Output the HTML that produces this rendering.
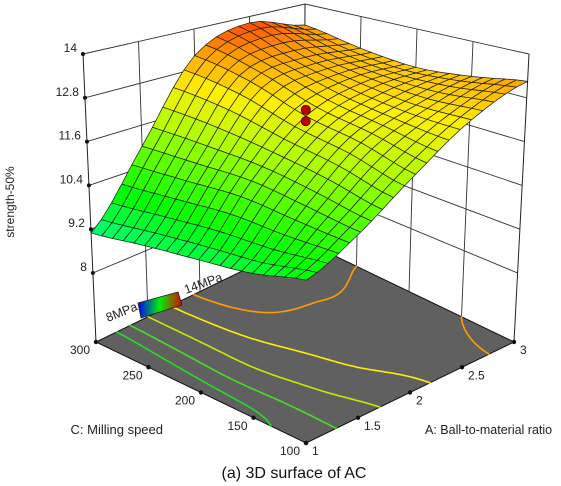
<!DOCTYPE html>
<html><head><meta charset="utf-8"><style>
html,body{margin:0;padding:0;background:#fff;}
svg{display:block;font-family:"Liberation Sans",sans-serif;}
</style></head><body>
<svg id="chart" width="561" height="486" viewBox="0 0 561 486" xmlns="http://www.w3.org/2000/svg">
<defs>
<linearGradient id="cbGrad" x1="0" y1="0" x2="1" y2="0">
<stop offset="0" stop-color="#0000ff"/><stop offset="0.5" stop-color="#00f000"/><stop offset="1" stop-color="#e00000"/>
</linearGradient>
</defs>
<g id="walls"></g>
<g id="floor"></g>
<g id="contours"></g>
<g id="axes"></g>
<g id="surface"></g>
<g id="points"></g>
<g>
<polygon points="138,303 178,292 182,305 141,318" fill="url(#cbGrad)" stroke="#222" stroke-width="0.8"/>
<text x="108" y="322" font-size="12.5" transform="rotate(-22 108 322)" fill="#222">8MPa</text>
<text x="186" y="294" font-size="12.5" transform="rotate(-20 186 294)" fill="#222">14MPa</text>
</g>
<text x="14" y="202" font-size="12" text-anchor="middle" transform="rotate(-90 14 202)" fill="#222">strength-50%</text>
<text x="163" y="434" font-size="13" text-anchor="end" fill="#222">C: Milling speed</text>
<text x="425" y="434" font-size="12.5" fill="#222">A: Ball-to-material ratio</text>
<text x="294" y="478" font-size="16" text-anchor="middle" fill="#111">(a) 3D surface of AC</text>
</svg>
<script>
// ---- data ----
const aValues = [1, 1.5, 2, 2.5, 3];            // A: Ball-to-material ratio
const cValues = [100, 150, 200, 250, 300];      // C: Milling speed
const zRow100 = [9.9, 10.6, 11.6, 12.6, 13.25];
const zRow150 = [9.6, 10.8, 12.0, 12.6, 13.0];
const zRow200 = [9.45, 11.0, 12.3, 12.8, 12.85];
const zRow250 = [9.3, 11.0, 12.85, 13.15, 13.0];
const zRow300 = [9.1, 11.0, 13.2, 13.8, 13.3];
const zTicks = [8, 9.2, 10.4, 11.6, 12.8, 14];
const aTicks = [1, 1.5, 2, 2.5, 3];
const cTicks = [100, 150, 200, 250, 300];
const contourLevels = [9.7, 10.25, 11, 12, 13];
const designPointA = [2, 2];
const designPointC = [200, 200];
const designPointZ = [12.47, 12.16];

const zGrid = [zRow100, zRow150, zRow200, zRow250, zRow300];
const NS = "http://www.w3.org/2000/svg";
const Z0 = 6.11, Z1 = 14;

function P(A, C, z) {
  const u = (A - 1) / 2, v = (C - 100) / 200;
  const fx = 306 + 208 * u - 210 * v, fy = 443 - 101 * u - 101 * v;
  const H = 339 - 51 * u - 51 * v, lean = 14 * u - 14 * v + 1;
  const f = (z - Z0) / (Z1 - Z0);
  return [fx + lean * f, fy - H * f];
}
function cr(p0, p1, p2, p3, t) {
  return 0.5 * ((2 * p1) + (-p0 + p2) * t + (2 * p0 - 5 * p1 + 4 * p2 - p3) * t * t + (-p0 + 3 * p1 - 3 * p2 + p3) * t * t * t);
}
function gz(i, j) {
  i = Math.max(0, Math.min(cValues.length - 1, i));
  j = Math.max(0, Math.min(aValues.length - 1, j));
  return zGrid[i][j];
}
function zAt(A, C) {
  const x = (A - aValues[0]) / (aValues[1] - aValues[0]);
  const y = (C - cValues[0]) / (cValues[1] - cValues[0]);
  let j = Math.min(Math.floor(x), aValues.length - 2), i = Math.min(Math.floor(y), cValues.length - 2);
  const tx = x - j, ty = y - i;
  const rows = [];
  for (let k = -1; k <= 2; k++) {
    rows.push(cr(gz(i + k, j - 1), gz(i + k, j), gz(i + k, j + 1), gz(i + k, j + 2), tx));
  }
  return cr(rows[0], rows[1], rows[2], rows[3], ty);
}
const stops = [[0, [0, 0, 255]], [0.17, [0, 255, 128]], [0.33, [0, 255, 0]], [0.58, [170, 255, 0]], [0.75, [255, 240, 0]], [0.88, [255, 160, 0]], [1, [255, 50, 0]]];
function color(z) {
  let t = Math.max(0, Math.min(1, (z - 8) / 6));
  for (let k = 1; k < stops.length; k++) {
    if (t <= stops[k][0]) {
      const a = stops[k - 1], b = stops[k], s = (t - a[0]) / (b[0] - a[0]);
      const c = a[1].map((v, n) => Math.round(v + (b[1][n] - v) * s));
      return `rgb(${c[0]},${c[1]},${c[2]})`;
    }
  }
  return "rgb(255,50,0)";
}
function mk(parent, tag, attrs) {
  const e = document.createElementNS(NS, tag);
  for (const k in attrs) e.setAttribute(k, attrs[k]);
  parent.appendChild(e);
  return e;
}
function pts(arr) { return arr.map(p => p[0].toFixed(1) + "," + p[1].toFixed(1)).join(" "); }

// walls
const walls = document.getElementById("walls");
const Amin = aValues[0], Amax = aValues[aValues.length - 1], Cmin = cValues[0], Cmax = cValues[cValues.length - 1];
let w1 = mk(walls, "polygon", { points: pts([P(Amin, Cmax, Z0), P(Amax, Cmax, Z0), P(Amax, Cmax, Z1), P(Amin, Cmax, Z1)]), fill: "#fff" });


zTicks.forEach(z => {
  let a = P(Amin, Cmax, z), b = P(Amax, Cmax, z), c = P(Amax, Cmin, z);
  let l = mk(walls, "polyline", { points: pts([a, b, c]), fill: "none", stroke: "#333", "stroke-width": 0.9 });
  
  
});
aTicks.slice(1, -1).forEach(A => {
  let l = mk(walls, "line", { x1: P(A, Cmax, Z0)[0], y1: P(A, Cmax, Z0)[1], x2: P(A, Cmax, Z1)[0], y2: P(A, Cmax, Z1)[1], stroke: "#333", "stroke-width": 0.9 });
  
  
});
cTicks.slice(1, -1).forEach(C => {
  let l = mk(walls, "line", { x1: P(Amax, C, Z0)[0], y1: P(Amax, C, Z0)[1], x2: P(Amax, C, Z1)[0], y2: P(Amax, C, Z1)[1], stroke: "#333", "stroke-width": 0.9 });
  
  
});
[[Amin, Cmax], [Amax, Cmax], [Amax, Cmin]].forEach(([A, C]) => {
  let l = mk(walls, "line", { x1: P(A, C, Z0)[0], y1: P(A, C, Z0)[1], x2: P(A, C, Z1)[0], y2: P(A, C, Z1)[1], stroke: "#222", "stroke-width": 1 });
  
  
});

// floor
const floor = document.getElementById("floor");
let fl = mk(floor, "polygon", { points: pts([P(Amin, Cmin, Z0), P(Amax, Cmin, Z0), P(Amax, Cmax, Z0), P(Amin, Cmax, Z0)]), fill: "#606060", stroke: "#111", "stroke-width": 1 });



// contours
const cg = document.getElementById("contours");
const contourColors = ["#22dd22", "#44e020", "#c8e800", "#ffee00", "#ff9c00"];
const M = 80;
const vals = [];
for (let i = 0; i <= M; i++) { vals.push([]); for (let j = 0; j <= M; j++) vals[i].push(zAt(Amin + (Amax - Amin) * j / M, Cmin + (Cmax - Cmin) * i / M)); }
contourLevels.forEach((L, li) => {
  let d = "";
  for (let i = 0; i < M; i++) for (let j = 0; j < M; j++) {
    const corners = [[i, j], [i, j + 1], [i + 1, j + 1], [i + 1, j]];
    const ps = [];
    for (let k = 0; k < 4; k++) {
      const [i1, j1] = corners[k], [i2, j2] = corners[(k + 1) % 4];
      const v1 = vals[i1][j1] - L, v2 = vals[i2][j2] - L;
      if ((v1 < 0) !== (v2 < 0)) {
        const t = v1 / (v1 - v2);
        const ii = i1 + (i2 - i1) * t, jj = j1 + (j2 - j1) * t;
        ps.push(P(Amin + (Amax - Amin) * jj / M, Cmin + (Cmax - Cmin) * ii / M, Z0));
      }
    }
    for (let k = 0; k + 1 < ps.length; k += 2) d += `M${ps[k][0].toFixed(1)},${ps[k][1].toFixed(1)}L${ps[k + 1][0].toFixed(1)},${ps[k + 1][1].toFixed(1)}`;
  }
  let p = mk(cg, "path", { d: d, stroke: contourColors[li], "stroke-width": 1.6, fill: "none", "stroke-linecap": "round" });
  
  
});

// axes ticks & labels
const ax = document.getElementById("axes");
zTicks.forEach(z => {
  const p = P(Amin, Cmax, z);
  let c = mk(ax, "circle", { cx: p[0], cy: p[1], r: 2, fill: "#111" });
  
  
  let t = mk(ax, "text", { x: p[0] - 6, y: p[1] - 2, "font-size": 12, "text-anchor": "end", fill: "#222" });
  t.textContent = String(z);
  
  
});
cTicks.forEach(C => {
  const p = P(Amin, C, Z0);
  let c = mk(ax, "circle", { cx: p[0], cy: p[1], r: 2.2, fill: "#111" });
  
  
  let t = mk(ax, "text", { x: p[0] - 16, y: p[1] + 12, "font-size": 12, "text-anchor": "middle", fill: "#222" });
  t.textContent = String(C);
  
  
});
aTicks.forEach(A => {
  const p = P(A, Cmin, Z0);
  let c = mk(ax, "circle", { cx: p[0], cy: p[1], r: 2.2, fill: "#111" });
  
  
  let t = mk(ax, "text", { x: p[0] + 6, y: p[1] + 12, "font-size": 12, fill: "#222" });
  t.textContent = String(A);
  
  
});

// surface
const sg = document.getElementById("surface");
const N = 20, cells = [];
const zs = [];
for (let i = 0; i <= N; i++) { zs.push([]); for (let j = 0; j <= N; j++) zs[i].push(zAt(Amin + (Amax - Amin) * j / N, Cmin + (Cmax - Cmin) * i / N)); }
for (let i = 0; i < N; i++) for (let j = 0; j < N; j++) cells.push([i, j]);
cells.sort((a, b) => (b[0] + b[1]) - (a[0] + a[1]));
cells.forEach(([i, j]) => {
  const q = [[i, j], [i, j + 1], [i + 1, j + 1], [i + 1, j]].map(([ii, jj]) => P(Amin + (Amax - Amin) * jj / N, Cmin + (Cmax - Cmin) * ii / N, zs[ii][jj]));
  const zm = (zs[i][j] + zs[i][j + 1] + zs[i + 1][j] + zs[i + 1][j + 1]) / 4;
  let p = mk(sg, "polygon", { points: pts(q), fill: color(zm), stroke: "#1a1a1a", "stroke-width": 0.7, "stroke-linejoin": "round" });
  
  
});

// design points
const pg = document.getElementById("points");
designPointZ.forEach((z, k) => {
  const p = P(designPointA[k], designPointC[k], z);
  let c = mk(pg, "circle", { cx: p[0], cy: p[1], r: 4.5, fill: "#c00000", stroke: "#600", "stroke-width": 1 });
  
  
});
</script>
</body></html>
